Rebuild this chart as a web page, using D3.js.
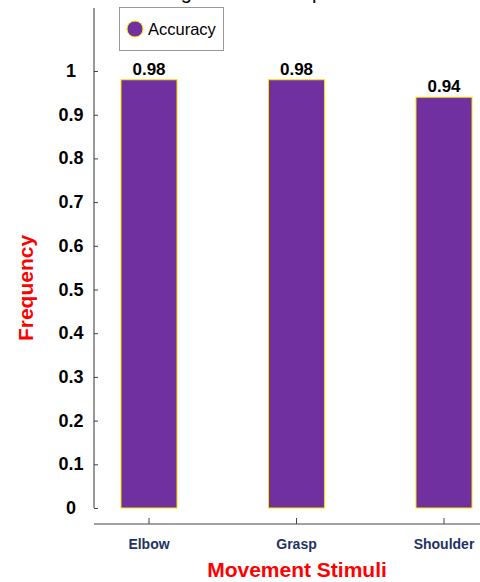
<!DOCTYPE html>
<html>
<head>
<meta charset="utf-8">
<script src="https://cdn.jsdelivr.net/npm/d3@7"></script>
<style>
  html, body { margin: 0; padding: 0; background: #fff; }
  svg { display: block; font-family: Arial, "Liberation Sans", sans-serif; }
</style>
</head>
<body>
<div id="chart"></div>
<script>
// Recognition accuracy for each movement stimulus
const categories = ["Elbow", "Grasp", "Shoulder"];
const accuracy = [0.98, 0.98, 0.94];
const valueLabels = ["0.98", "0.98", "0.94"];
const yTicks = [0, 0.1, 0.2, 0.3, 0.4, 0.5, 0.6, 0.7, 0.8, 0.9, 1];
const seriesName = "Accuracy";

const W = 480, H = 582;
const barFill = "#7030a0", barStroke = "#ffe600";

const svg = d3.select("#chart").append("svg")
  .attr("width", W).attr("height", H);

// Scales
const y = d3.scaleLinear().domain([0, 1]).range([508, 71]);
const x = d3.scaleBand().domain(categories)
  .range([75.25, 517.75]).paddingInner(0.62).paddingOuter(0.31);

// Title (sits mostly above the visible area)
svg.append("text")
  .attr("x", 253).attr("y", -1)
  .attr("text-anchor", "middle")
  .attr("font-size", 20)
  .attr("fill", "#000")
  .text("Testing Results Comparison");

// Y axis
const yAxis = d3.axisRight(y).tickValues(yTicks).tickSize(4).tickFormat("");
const gy = svg.append("g").attr("transform", "translate(94,0)").call(yAxis);
gy.select(".domain").remove();
gy.selectAll(".tick line").attr("stroke", "#444");
gy.append("line")
  .attr("x1", 0).attr("x2", 0)
  .attr("y1", 8).attr("y2", y(0))
  .attr("stroke", "#333").attr("stroke-width", 1);

svg.append("g").selectAll("text").data(yTicks).join("text")
  .attr("x", 71).attr("y", d => y(d) + 6)
  .attr("text-anchor", "middle")
  .attr("font-size", 18).attr("font-weight", "bold").attr("fill", "#000")
  .text(d => d3.format("")(d));

// X axis (separate baseline below the plot)
const xAxisY = 524;
const xAxis = d3.axisTop(x).tickSize(6).tickFormat("");
const gx = svg.append("g").attr("transform", `translate(0,${xAxisY})`).call(xAxis);
gx.select(".domain").remove();
gx.selectAll(".tick line").attr("stroke", "#444");
gx.append("line")
  .attr("x1", 94).attr("x2", W)
  .attr("y1", 0).attr("y2", 0)
  .attr("stroke", "#444");

svg.append("g").selectAll("text").data(categories).join("text")
  .attr("x", d => x(d) + x.bandwidth() / 2)
  .attr("y", 549)
  .attr("text-anchor", "middle")
  .attr("font-size", 14).attr("font-weight", "bold").attr("fill", "#1f3264")
  .text(d => d);

// Bars
svg.append("g").selectAll("rect").data(accuracy).join("rect")
  .attr("x", (d, i) => x(categories[i]))
  .attr("y", d => y(d))
  .attr("width", x.bandwidth())
  .attr("height", d => y(0) - y(d))
  .attr("fill", barFill)
  .attr("stroke", barStroke).attr("stroke-width", 1);

// Value labels
svg.append("g").selectAll("text").data(accuracy).join("text")
  .attr("x", (d, i) => x(categories[i]) + x.bandwidth() / 2)
  .attr("y", d => y(d) - 5)
  .attr("text-anchor", "middle")
  .attr("font-size", 17).attr("font-weight", "bold").attr("fill", "#000")
  .text((d, i) => valueLabels[i]);

// Axis titles
svg.append("text")
  .attr("x", 297).attr("y", 577)
  .attr("text-anchor", "middle")
  .attr("font-size", 21).attr("font-weight", "bold").attr("fill", "#ff0000")
  .text("Movement Stimuli");

svg.append("text")
  .attr("transform", "translate(33,288) rotate(-90)")
  .attr("text-anchor", "middle")
  .attr("font-size", 21).attr("font-weight", "bold").attr("fill", "#ff0000")
  .text("Frequency");

// Legend
const lg = svg.append("g").attr("transform", "translate(119,7)");
lg.append("rect")
  .attr("x", 0.5).attr("y", 0.5).attr("width", 104).attr("height", 43)
  .attr("fill", "#fff").attr("stroke", "#999");
lg.append("circle")
  .attr("cx", 16).attr("cy", 22).attr("r", 8)
  .attr("fill", barFill).attr("stroke", barStroke).attr("stroke-width", 1);
lg.append("text")
  .attr("x", 29).attr("y", 27.5)
  .attr("font-size", 16.5).attr("fill", "#000")
  .text(seriesName);
</script>
</body>
</html>
